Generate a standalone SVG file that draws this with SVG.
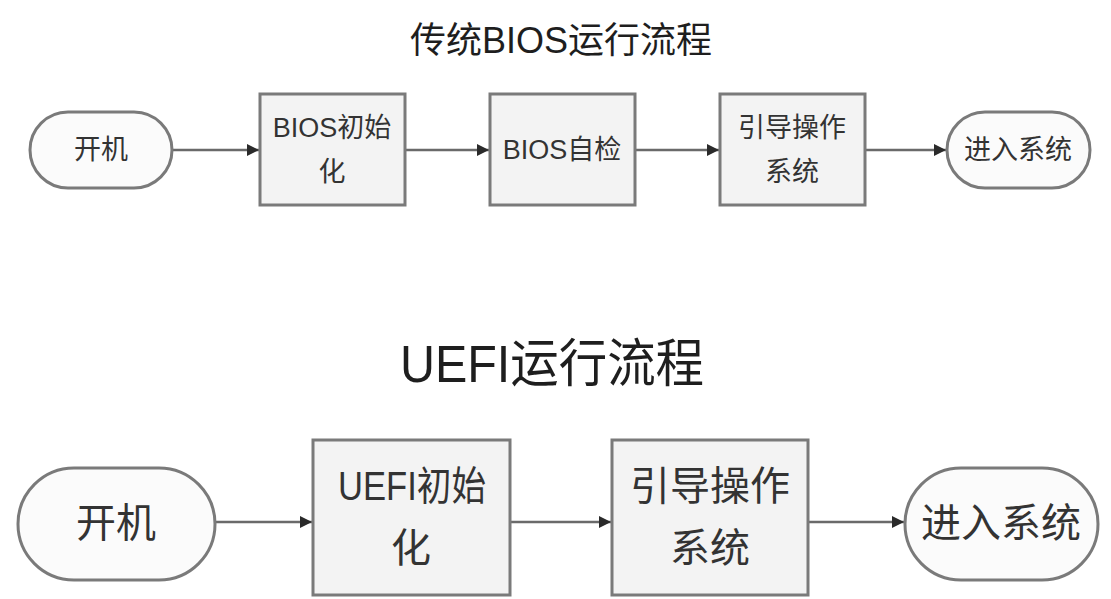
<svg xmlns="http://www.w3.org/2000/svg" width="1111" height="599" viewBox="0 0 1111 599">
<style>
text{font-family:"Liberation Sans","Noto Sans CJK SC",sans-serif;fill:#333;text-anchor:middle;dominant-baseline:central}
.box{fill:#f3f3f3;stroke:#7a7a7a;stroke-width:3}
.term{fill:#fbfbfb;stroke:#7a7a7a;stroke-width:3}
.con{stroke:#6a6a6a;stroke-width:2.5;fill:none;marker-end:url(#ah)}
.s{font-size:27px}
.b{font-size:40px}
.t{fill:#1e1e1e}
</style>
<defs>
<marker id="ah" viewBox="0 0 10 10" refX="10" refY="5" markerWidth="5" markerHeight="5" orient="auto" markerUnits="strokeWidth"><path d="M0,0L10,5L0,10z" fill="#2a2a2a"/></marker>
</defs>
<rect width="1111" height="599" fill="#ffffff"/>
<text class="t" x="561" y="40" style="font-size:36px" textLength="302" lengthAdjust="spacingAndGlyphs">传统BIOS运行流程</text>
<text class="t" x="552" y="364" style="font-size:52px" textLength="304" lengthAdjust="spacingAndGlyphs">UEFI运行流程</text>
<g id="connectors">
<line class="con" x1="173" y1="150" x2="259" y2="150"/>
<line class="con" x1="406" y1="150" x2="489" y2="150"/>
<line class="con" x1="636" y1="150" x2="719" y2="150"/>
<line class="con" x1="866" y1="150" x2="946" y2="150"/>
<line class="con" x1="216" y1="522" x2="312" y2="522"/>
<line class="con" x1="511" y1="522" x2="611" y2="522"/>
<line class="con" x1="809" y1="522" x2="904" y2="522"/>
</g>
<g id="b_start"><rect class="term" x="30" y="112" width="142" height="76" rx="38"/><text class="s" x="101" y="150">开机</text></g>
<g id="b_init"><rect class="box" x="260" y="94" width="145" height="111"/><text class="s" x="332" y="128">BIOS初始</text><text class="s" x="332" y="172">化</text></g>
<g id="b_post"><rect class="box" x="490" y="94" width="145" height="111"/><text class="s" x="562" y="150">BIOS自检</text></g>
<g id="b_boot"><rect class="box" x="720" y="94" width="145" height="111"/><text class="s" x="792" y="128">引导操作</text><text class="s" x="792" y="172">系统</text></g>
<g id="b_enter"><rect class="term" x="947" y="112" width="143" height="76" rx="38"/><text class="s" x="1018" y="150">进入系统</text></g>
<g id="u_start"><rect class="term" x="18" y="468" width="197" height="112" rx="56"/><text class="b" x="116" y="523">开机</text></g>
<g id="u_init"><rect class="box" x="313" y="440" width="197" height="155"/><text class="b" x="412" y="486" textLength="148" lengthAdjust="spacingAndGlyphs">UEFI初始</text><text class="b" x="411" y="548">化</text></g>
<g id="u_boot"><rect class="box" x="612" y="440" width="196" height="155"/><text class="b" x="710" y="486">引导操作</text><text class="b" x="710" y="548">系统</text></g>
<g id="u_enter"><rect class="term" x="905" y="468" width="193" height="112" rx="56"/><text class="b" x="1001" y="523">进入系统</text></g>
</svg>
